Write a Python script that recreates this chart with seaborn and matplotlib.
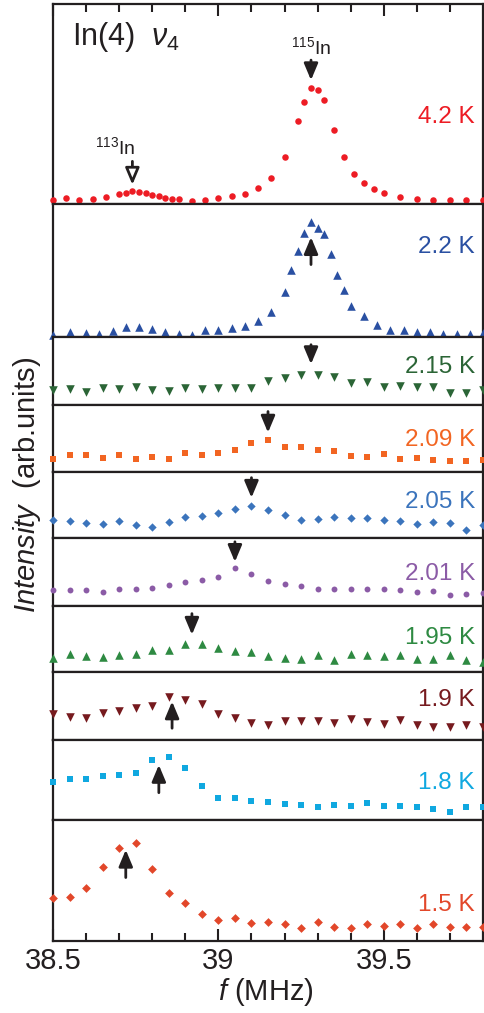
import matplotlib
matplotlib.use('Agg')
import matplotlib.pyplot as plt
import seaborn as sns
import pandas as pd

# frequencies (MHz) and intensities (arb. units)
f_42 = [38.50, 38.54, 38.58, 38.62, 38.66, 38.70, 38.72, 38.74, 38.76, 38.78,
        38.80, 38.82, 38.84, 38.86, 38.88, 38.92, 38.96, 39.00, 39.04, 39.08,
        39.12, 39.16, 39.20, 39.24, 39.26, 39.28, 39.30, 39.32, 39.35, 39.38,
        39.41, 39.44, 39.47, 39.50, 39.55, 39.60, 39.65, 39.70, 39.75, 39.80]
i_42 = [12, 20, 13, 16, 21, 32, 34, 39, 37, 34, 28, 25, 20, 15, 15, 9, 13, 19, 25, 31,
        48, 79, 141, 250, 307, 349, 342, 312, 222, 141, 92, 64, 45, 33, 21, 15, 12, 13, 12, 14]

f_22 = [38.50, 38.55, 38.60, 38.64, 38.68, 38.72, 38.76, 38.80, 38.84, 38.88,
        38.92, 38.96, 39.00, 39.04, 39.08, 39.12, 39.16, 39.20, 39.22, 39.24,
        39.26, 39.28, 39.30, 39.32, 39.34, 39.36, 39.38, 39.40, 39.44, 39.48,
        39.52, 39.56, 39.60, 39.64, 39.68, 39.72, 39.76, 39.80]
i_22 = [8, 15, 12, 10, 20, 30, 30, 26, 17, 10, 8, 21, 21, 28, 33, 48, 76, 135, 202, 258,
        311, 345, 327, 308, 249, 187, 141, 93, 63, 36, 23, 21, 16, 15, 10, 10, 10, 14]

f_grid = [38.50, 38.55, 38.60, 38.65, 38.70, 38.75, 38.80, 38.85, 38.90, 38.95,
          39.00, 39.05, 39.10, 39.15, 39.20, 39.25, 39.30, 39.35, 39.40, 39.45,
          39.50, 39.55, 39.60, 39.65, 39.70, 39.75, 39.80]
i_215 = [44, 47, 39, 51, 46, 52, 44, 42, 49, 48, 49, 49, 49, 70, 79, 88, 89, 83, 64, 68, 54, 57, 54, 54, 34, 34, 44]
i_209 = [37, 50, 50, 41, 50, 37, 44, 37, 56, 50, 55, 64, 85, 94, 74, 74, 64, 62, 46, 44, 54, 38, 41, 35, 32, 32, 35]
i_205 = [54, 51, 44, 43, 50, 39, 33, 49, 64, 67, 76, 88, 95, 84, 68, 54, 58, 64, 61, 60, 54, 50, 42, 47, 45, 23, 38]
i_201 = [49, 49, 49, 42, 51, 51, 54, 63, 72, 79, 89, 115, 97, 75, 67, 61, 51, 51, 51, 51, 51, 49, 42, 45, 33, 36, 39]
i_195 = [41, 55, 49, 46, 51, 53, 66, 66, 85, 84, 72, 63, 59, 47, 42, 39, 52, 37, 54, 52, 47, 52, 39, 39, 50, 37, 31]
i_19 = [77, 70, 65, 82, 86, 95, 100, 128, 120, 106, 78, 65, 52, 45, 58, 58, 58, 52, 63, 55, 49, 60, 46, 40, 40, 46, 40]
i_18 = [114, 122, 122, 132, 134, 141, 179, 189, 156, 102, 66, 66, 57, 54, 47, 45, 39, 45, 42, 51, 42, 41, 39, 33, 24, 37, 39]
i_15 = [128, 133, 159, 222, 278, 294, 217, 145, 113, 81, 63, 68, 53, 58, 50, 40, 56, 43, 38, 50, 46, 50, 40, 50, 43, 41, 43]

temps = ['4.2 K', '2.2 K', '2.15 K', '2.09 K', '2.05 K', '2.01 K', '1.95 K', '1.9 K', '1.8 K', '1.5 K']
freqs = [f_42, f_22, f_grid, f_grid, f_grid, f_grid, f_grid, f_grid, f_grid, f_grid]
intens = [i_42, i_22, i_215, i_209, i_205, i_201, i_195, i_19, i_18, i_15]

# peak positions marked by arrows: (freq, tail, tip)
peak_f = [39.28, 39.28, 39.28, 39.15, 39.10, 39.05, 38.92, 38.86, 38.82, 38.72]
arrow_tail = [432, 218, 180, 180, 181, 193, 175, 35, 81, 190]
arrow_tip = [372, 300, 122, 117, 121, 133, 112, 115, 164, 273]
in113_f, in113_tail, in113_tip = 38.74, 129, 59

# styling
colors = ['#ED1C24', '#2A50A2', '#2B6536', '#F26522', '#3B74BC',
          '#8B5BA6', '#2E8A42', '#761A1E', '#10A8E0', '#E2472A']
markers = ['o', '^', 'v', 's', 'D', 'o', '^', 'v', 's', 'D']
msizes = [22, 38, 38, 20, 18, 18, 38, 38, 24, 20]
ylims = [600, 398, 202, 200, 199, 204, 197, 203, 239, 363]
label_y = [0.435, 0.68, 0.56, 0.48, 0.54, 0.47, 0.52, 0.59, 0.46, 0.30]

sns.set_theme(style='ticks')
plt.rcParams['font.family'] = ['Liberation Sans', 'DejaVu Sans']
plt.rcParams['mathtext.fontset'] = 'custom'
plt.rcParams['mathtext.rm'] = 'Liberation Sans'
plt.rcParams['mathtext.it'] = 'Liberation Sans:italic'

fig, axes = plt.subplots(len(temps), 1, figsize=(4.84, 10.13), dpi=100, sharex=True,
                         gridspec_kw={'height_ratios': ylims, 'hspace': 0})
fig.subplots_adjust(left=53 / 484, right=483 / 484, top=1 - 4 / 1013, bottom=1 - 941 / 1013)

for k, ax in enumerate(axes):
    df = pd.DataFrame({'f': freqs[k], 'I': intens[k]})
    sns.scatterplot(data=df, x='f', y='I', ax=ax, color=colors[k], marker=markers[k],
                    s=msizes[k], linewidth=0, clip_on=False, zorder=3)
    ax.set_xlim(38.5, 39.8)
    ax.set_ylim(0, ylims[k])
    ax.set_xlabel('')
    ax.set_ylabel('')
    ax.set_yticks([])
    for sp in ax.spines.values():
        sp.set_linewidth(1.6)
        sp.set_color('#231F20')
        sp.set_visible(True)
    ax.tick_params(axis='x', which='both', bottom=False, top=False, labelbottom=False,
                   direction='in', width=1.5, color='#231F20')
    ax.text(0.981, label_y[k], temps[k], transform=ax.transAxes, ha='right', va='center',
            color=colors[k], fontsize=17.5)
    ax.annotate('', xy=(peak_f[k], arrow_tip[k]), xytext=(peak_f[k], arrow_tail[k]),
                arrowprops=dict(arrowstyle='-|>,head_length=1.0,head_width=0.42',
                                lw=2, color='#231F20', shrinkA=0, shrinkB=0,
                                mutation_scale=10), zorder=4)

ax0 = axes[0]
ax0.annotate('', xy=(in113_f, in113_tip), xytext=(in113_f, in113_tail),
             arrowprops=dict(arrowstyle='-|>,head_length=1.0,head_width=0.42',
                             lw=2, ec='#231F20', fc='white', shrinkA=0, shrinkB=0,
                             mutation_scale=10), zorder=4)
ax0.text(39.28, 472, '$^{115}$In', ha='center', va='center', fontsize=14, color='#231F20')
ax0.text(38.687, 172, '$^{113}$In', ha='center', va='center', fontsize=14, color='#231F20')
ax0.text(0.044, 0.835, r'In(4)  $\nu_4$', transform=ax0.transAxes, ha='left', va='center',
         fontsize=22, color='#231F20')
ax0.tick_params(axis='x', which='both', top=True)

axb = axes[-1]
axb.set_xticks([38.5, 39, 39.5])
axb.set_xticklabels(['38.5', '39', '39.5'])
axb.set_xticks([38.6, 38.7, 38.8, 38.9, 39.1, 39.2, 39.3, 39.4, 39.6, 39.7], minor=True)
axb.tick_params(axis='x', which='both', bottom=True, labelbottom=True)
axb.tick_params(axis='x', which='major', length=8.5, labelsize=21, pad=4, labelcolor='#231F20')
axb.tick_params(axis='x', which='minor', length=5.8)
ax0.tick_params(axis='x', which='major', length=8.5)
ax0.tick_params(axis='x', which='minor', length=5.8)

fig.text(27 / 484, 1 - 485 / 1013, r'$\mathit{Intensity}$  (arb.units)', rotation=90,
         ha='center', va='center', fontsize=21, color='#231F20')
fig.text(266 / 484, 1 - 992 / 1013, r'$\mathit{f}$ (MHz)', ha='center', va='center',
         fontsize=21, color='#231F20')

fig.savefig('out.png', dpi=100)
